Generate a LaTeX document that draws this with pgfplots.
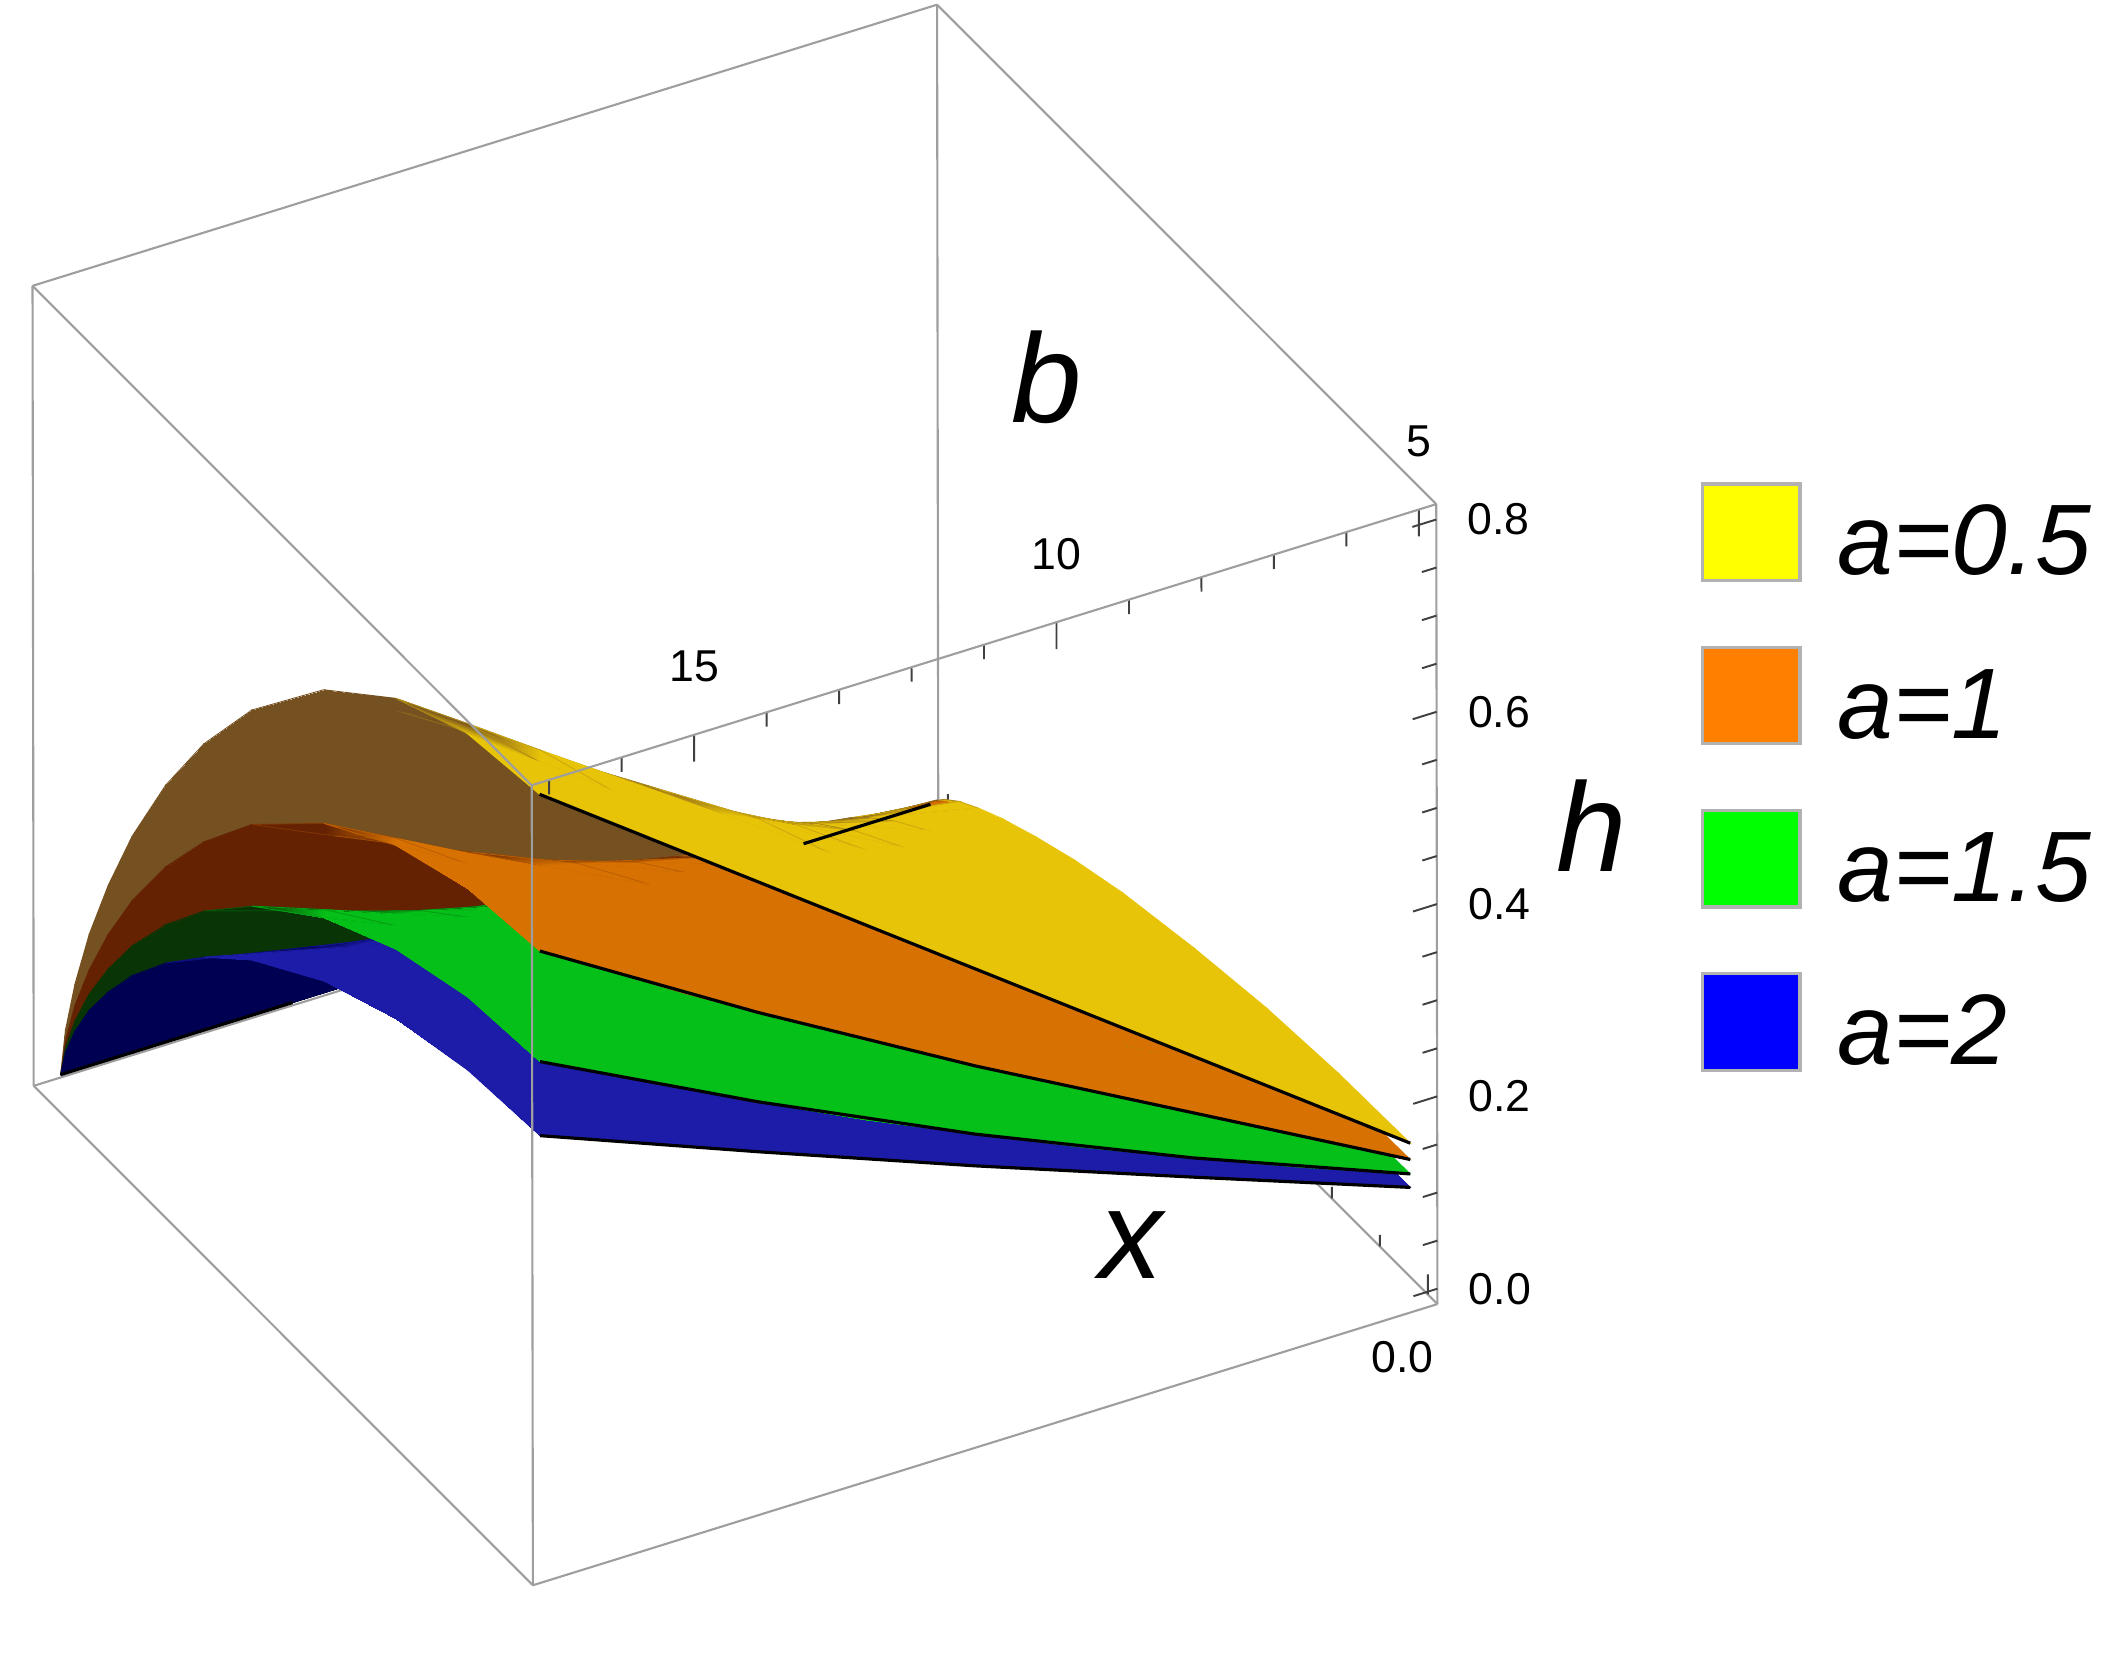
\documentclass[border=0pt]{standalone}
\usepackage{fontspec}
\setmainfont{Liberation Sans}
\usepackage{pgfplots}
\usepackage{pgfplotstable}
\pgfplotsset{compat=1.18}
\usetikzlibrary{calc}
\pgfplotsset{colormap={surfcols}{rgb255=(0,0,82) rgb255=(28,28,168) rgb255=(8,52,6) rgb255=(4,192,24) rgb255=(100,34,2) rgb255=(215,114,2) rgb255=(117,80,32) rgb255=(232,196,8)}}
\tikzset{tk/.style={draw=black!75, line width=0.55pt}}
\newcommand\tfont{\fontsize{12.7}{15}\selectfont}
\newcommand\afont{\fontsize{36}{40}\selectfont\itshape}
\newcommand\lfont{\fontsize{28.5}{32}\selectfont\itshape}
\definecolor{lgy}{RGB}{255,255,0}
\definecolor{lgo}{RGB}{255,128,0}
\definecolor{lgg}{RGB}{0,255,0}
\definecolor{lgb}{RGB}{0,0,255}
% h(x,b) for a=2 (blue); m: 1 = lit side, 0 = shaded side
\pgfplotstableread{
x b h m
0 5 0.101 1
0.15 5 0.099 1
0.3 5 0.095 1
0.45 5 0.086 1
0.6 5 0.074 1
0.7 5 0.063 1
0.78 5 0.052 1
0.85 5 0.041 1
0.9 5 0.032 1
0.94 5 0.022 1
0.97 5 0.014 1
0.99 5 0.007 1
1 5 0 0
0 6.5 0.142 1
0.15 6.5 0.139 1
0.3 6.5 0.132 1
0.45 6.5 0.121 1
0.6 6.5 0.104 1
0.7 6.5 0.088 1
0.78 6.5 0.073 1
0.85 6.5 0.058 1
0.9 6.5 0.044 1
0.94 6.5 0.031 1
0.97 6.5 0.020 1
0.99 6.5 0.009 0
1 6.5 0 0
0 8 0.182 1
0.15 8 0.179 1
0.3 8 0.170 1
0.45 8 0.155 1
0.6 8 0.133 1
0.7 8 0.114 1
0.78 8 0.094 1
0.85 8 0.074 1
0.9 8 0.057 1
0.94 8 0.040 1
0.97 8 0.025 1
0.99 8 0.012 0
1 8 0 0
0 9.5 0.223 1
0.15 9.5 0.219 1
0.3 9.5 0.209 1
0.45 9.5 0.190 1
0.6 9.5 0.163 1
0.7 9.5 0.139 1
0.78 9.5 0.116 1
0.85 9.5 0.091 1
0.9 9.5 0.070 1
0.94 9.5 0.049 1
0.97 9.5 0.031 0
0.99 9.5 0.014 0
1 9.5 0 0
0 11 0.264 1
0.15 11 0.260 1
0.3 11 0.247 1
0.45 11 0.225 1
0.6 11 0.193 1
0.7 11 0.165 1
0.78 11 0.137 1
0.85 11 0.108 1
0.9 11 0.083 1
0.94 11 0.059 0
0.97 11 0.036 0
0.99 11 0.017 0
1 11 0 0
0 12.5 0.306 1
0.15 12.5 0.301 1
0.3 12.5 0.286 1
0.45 12.5 0.261 1
0.6 12.5 0.224 1
0.7 12.5 0.191 1
0.78 12.5 0.159 1
0.85 12.5 0.125 1
0.9 12.5 0.096 0
0.94 12.5 0.068 0
0.97 12.5 0.042 0
0.99 12.5 0.020 0
1 12.5 0 0
0 14 0.349 1
0.15 14 0.343 1
0.3 14 0.327 1
0.45 14 0.298 1
0.6 14 0.255 1
0.7 14 0.218 1
0.78 14 0.181 1
0.85 14 0.142 0
0.9 14 0.109 0
0.94 14 0.077 0
0.97 14 0.048 0
0.99 14 0.022 0
1 14 0 0
0 15 0.378 1
0.15 15 0.372 1
0.3 15 0.354 1
0.45 15 0.323 1
0.6 15 0.277 1
0.7 15 0.236 1
0.78 15 0.196 0
0.85 15 0.154 0
0.9 15 0.118 0
0.94 15 0.084 0
0.97 15 0.052 0
0.99 15 0.024 0
1 15 0 0
0 16 0.407 1
0.15 16 0.401 1
0.3 16 0.381 1
0.45 16 0.347 1
0.6 16 0.298 1
0.7 16 0.254 1
0.78 16 0.211 0
0.85 16 0.166 0
0.9 16 0.127 0
0.94 16 0.090 0
0.97 16 0.056 0
0.99 16 0.026 0
1 16 0 0
0 17 0.436 1
0.15 17 0.429 1
0.3 17 0.408 1
0.45 17 0.372 1
0.6 17 0.319 1
0.7 17 0.272 1
0.78 17 0.226 0
0.85 17 0.178 0
0.9 17 0.136 0
0.94 17 0.097 0
0.97 17 0.060 0
0.99 17 0.028 0
1 17 0 0
}\tB
% a=1.5 (green)
\pgfplotstableread{
x b h m
0 5 0.115 3
0.15 5 0.113 3
0.3 5 0.108 3
0.45 5 0.098 3
0.6 5 0.084 3
0.7 5 0.072 3
0.78 5 0.060 3
0.85 5 0.047 3
0.9 5 0.036 3
0.94 5 0.026 3
0.97 5 0.016 3
0.99 5 0.007 3
1 5 0 2
0 6.5 0.157 3
0.15 6.5 0.155 3
0.3 6.5 0.147 3
0.45 6.5 0.134 3
0.6 6.5 0.115 3
0.7 6.5 0.098 3
0.78 6.5 0.081 3
0.85 6.5 0.064 3
0.9 6.5 0.049 3
0.94 6.5 0.035 3
0.97 6.5 0.022 3
0.99 6.5 0.010 2
1 6.5 0 2
0 8 0.202 3
0.15 8 0.198 3
0.3 8 0.189 3
0.45 8 0.172 3
0.6 8 0.147 3
0.7 8 0.126 3
0.78 8 0.105 3
0.85 8 0.082 3
0.9 8 0.063 3
0.94 8 0.045 3
0.97 8 0.028 2
0.99 8 0.013 2
1 8 0 2
0 9.5 0.248 3
0.15 9.5 0.244 3
0.3 9.5 0.232 3
0.45 9.5 0.212 3
0.6 9.5 0.182 3
0.7 9.5 0.155 3
0.78 9.5 0.129 3
0.85 9.5 0.101 3
0.9 9.5 0.078 3
0.94 9.5 0.055 2
0.97 9.5 0.034 2
0.99 9.5 0.016 2
1 9.5 0 2
0 11 0.297 3
0.15 11 0.292 3
0.3 11 0.278 3
0.45 11 0.253 3
0.6 11 0.217 3
0.7 11 0.185 3
0.78 11 0.154 3
0.85 11 0.121 3
0.9 11 0.093 2
0.94 11 0.066 2
0.97 11 0.041 2
0.99 11 0.019 2
1 11 0 2
0 12.5 0.347 3
0.15 12.5 0.342 3
0.3 12.5 0.325 3
0.45 12.5 0.296 3
0.6 12.5 0.254 3
0.7 12.5 0.217 3
0.78 12.5 0.180 3
0.85 12.5 0.142 2
0.9 12.5 0.109 2
0.94 12.5 0.077 2
0.97 12.5 0.048 2
0.99 12.5 0.022 2
1 12.5 0 2
0 14 0.401 3
0.15 14 0.395 3
0.3 14 0.375 3
0.45 14 0.342 3
0.6 14 0.293 3
0.7 14 0.250 3
0.78 14 0.208 2
0.85 14 0.163 2
0.9 14 0.125 2
0.94 14 0.089 2
0.97 14 0.055 2
0.99 14 0.026 2
1 14 0 2
0 15 0.438 3
0.15 15 0.431 3
0.3 15 0.410 3
0.45 15 0.374 3
0.6 15 0.320 3
0.7 15 0.273 2
0.78 15 0.227 2
0.85 15 0.179 2
0.9 15 0.137 2
0.94 15 0.097 2
0.97 15 0.060 2
0.99 15 0.028 2
1 15 0 2
0 16 0.476 3
0.15 16 0.468 3
0.3 16 0.445 3
0.45 16 0.406 3
0.6 16 0.348 3
0.7 16 0.297 2
0.78 16 0.247 2
0.85 16 0.194 2
0.9 16 0.149 2
0.94 16 0.106 2
0.97 16 0.066 2
0.99 16 0.031 2
1 16 0 2
0 17 0.513 3
0.15 17 0.505 3
0.3 17 0.480 3
0.45 17 0.438 3
0.6 17 0.375 2
0.7 17 0.320 2
0.78 17 0.266 2
0.85 17 0.209 2
0.9 17 0.160 2
0.94 17 0.114 2
0.97 17 0.071 2
0.99 17 0.033 2
1 17 0 2
}\tG
% a=1 (orange)
\pgfplotstableread{
x b h m
0 5 0.130 5
0.15 5 0.128 5
0.3 5 0.122 5
0.45 5 0.111 5
0.6 5 0.095 5
0.7 5 0.081 5
0.78 5 0.067 5
0.85 5 0.053 5
0.9 5 0.041 5
0.94 5 0.029 5
0.97 5 0.018 5
0.99 5 0.008 5
1 5 0 4
0 6.5 0.189 5
0.15 6.5 0.186 5
0.3 6.5 0.177 5
0.45 6.5 0.161 5
0.6 6.5 0.138 5
0.7 6.5 0.118 5
0.78 6.5 0.098 5
0.85 6.5 0.077 5
0.9 6.5 0.059 5
0.94 6.5 0.042 5
0.97 6.5 0.026 5
0.99 6.5 0.012 4
1 6.5 0 4
0 8 0.249 5
0.15 8 0.245 5
0.3 8 0.233 5
0.45 8 0.212 5
0.6 8 0.182 5
0.7 8 0.155 5
0.78 8 0.129 5
0.85 8 0.101 5
0.9 8 0.078 5
0.94 8 0.055 4
0.97 8 0.034 4
0.99 8 0.016 4
1 8 0 4
0 9.5 0.308 5
0.15 9.5 0.303 5
0.3 9.5 0.288 5
0.45 9.5 0.263 5
0.6 9.5 0.225 5
0.7 9.5 0.192 5
0.78 9.5 0.160 5
0.85 9.5 0.126 4
0.9 9.5 0.096 4
0.94 9.5 0.068 4
0.97 9.5 0.043 4
0.99 9.5 0.020 4
1 9.5 0 4
0 11 0.368 5
0.15 11 0.362 5
0.3 11 0.344 5
0.45 11 0.314 5
0.6 11 0.269 5
0.7 11 0.230 5
0.78 11 0.191 4
0.85 11 0.150 4
0.9 11 0.115 4
0.94 11 0.082 4
0.97 11 0.051 4
0.99 11 0.024 4
1 11 0 4
0 12.5 0.430 5
0.15 12.5 0.423 5
0.3 12.5 0.402 5
0.45 12.5 0.367 5
0.6 12.5 0.314 5
0.7 12.5 0.268 4
0.78 12.5 0.223 4
0.85 12.5 0.175 4
0.9 12.5 0.134 4
0.94 12.5 0.095 4
0.97 12.5 0.059 4
0.99 12.5 0.028 4
1 12.5 0 4
0 14 0.494 5
0.15 14 0.486 5
0.3 14 0.462 5
0.45 14 0.421 5
0.6 14 0.361 4
0.7 14 0.308 4
0.78 14 0.256 4
0.85 14 0.201 4
0.9 14 0.154 4
0.94 14 0.110 4
0.97 14 0.068 4
0.99 14 0.032 4
1 14 0 4
0 15 0.537 5
0.15 15 0.529 5
0.3 15 0.503 5
0.45 15 0.458 5
0.6 15 0.393 4
0.7 15 0.335 4
0.78 15 0.279 4
0.85 15 0.219 4
0.9 15 0.168 4
0.94 15 0.119 4
0.97 15 0.074 4
0.99 15 0.035 4
1 15 0 4
0 16 0.583 5
0.15 16 0.573 5
0.3 16 0.545 5
0.45 16 0.497 5
0.6 16 0.426 4
0.7 16 0.364 4
0.78 16 0.302 4
0.85 16 0.237 4
0.9 16 0.182 4
0.94 16 0.129 4
0.97 16 0.080 4
0.99 16 0.038 4
1 16 0 4
0 17 0.628 5
0.15 17 0.618 5
0.3 17 0.588 5
0.45 17 0.536 4
0.6 17 0.460 4
0.7 17 0.392 4
0.78 17 0.326 4
0.85 17 0.256 4
0.9 17 0.196 4
0.94 17 0.139 4
0.97 17 0.087 4
0.99 17 0.040 4
1 17 0 4
}\tO
% a=0.5 (yellow)
\pgfplotstableread{
x b h m
0 5 0.147 7
0.15 5 0.145 7
0.3 5 0.138 7
0.45 5 0.125 7
0.6 5 0.108 7
0.7 5 0.092 7
0.78 5 0.076 7
0.85 5 0.060 7
0.9 5 0.046 7
0.94 5 0.033 7
0.97 5 0.020 7
0.99 5 0.009 6
1 5 0 6
0 6.5 0.228 7
0.15 6.5 0.224 7
0.3 6.5 0.213 7
0.45 6.5 0.194 7
0.6 6.5 0.167 7
0.7 6.5 0.142 7
0.78 6.5 0.118 7
0.85 6.5 0.093 7
0.9 6.5 0.071 7
0.94 6.5 0.051 6
0.97 6.5 0.031 6
0.99 6.5 0.015 6
1 6.5 0 6
0 8 0.308 7
0.15 8 0.303 7
0.3 8 0.288 7
0.45 8 0.263 7
0.6 8 0.225 7
0.7 8 0.192 7
0.78 8 0.160 7
0.85 8 0.126 6
0.9 8 0.096 6
0.94 8 0.068 6
0.97 8 0.043 6
0.99 8 0.020 6
1 8 0 6
0 9.5 0.389 7
0.15 9.5 0.383 7
0.3 9.5 0.364 7
0.45 9.5 0.332 7
0.6 9.5 0.284 7
0.7 9.5 0.243 6
0.78 9.5 0.202 6
0.85 9.5 0.158 6
0.9 9.5 0.122 6
0.94 9.5 0.086 6
0.97 9.5 0.054 6
0.99 9.5 0.025 6
1 9.5 0 6
0 11 0.469 7
0.15 11 0.462 7
0.3 11 0.439 7
0.45 11 0.400 7
0.6 11 0.343 6
0.7 11 0.293 6
0.78 11 0.243 6
0.85 11 0.191 6
0.9 11 0.147 6
0.94 11 0.104 6
0.97 11 0.065 6
0.99 11 0.030 6
1 11 0 6
0 12.5 0.550 7
0.15 12.5 0.541 7
0.3 12.5 0.515 7
0.45 12.5 0.469 6
0.6 12.5 0.402 6
0.7 12.5 0.343 6
0.78 12.5 0.285 6
0.85 12.5 0.224 6
0.9 12.5 0.172 6
0.94 12.5 0.122 6
0.97 12.5 0.076 6
0.99 12.5 0.035 6
1 12.5 0 6
0 14 0.630 7
0.15 14 0.620 7
0.3 14 0.590 7
0.45 14 0.538 6
0.6 14 0.461 6
0.7 14 0.393 6
0.78 14 0.327 6
0.85 14 0.257 6
0.9 14 0.197 6
0.94 14 0.140 6
0.97 14 0.087 6
0.99 14 0.041 6
1 14 0 6
0 15 0.684 7
0.15 15 0.673 7
0.3 15 0.640 7
0.45 15 0.584 6
0.6 15 0.500 6
0.7 15 0.427 6
0.78 15 0.355 6
0.85 15 0.279 6
0.9 15 0.214 6
0.94 15 0.152 6
0.97 15 0.094 6
0.99 15 0.044 6
1 15 0 6
0 16 0.738 7
0.15 16 0.726 7
0.3 16 0.691 6
0.45 16 0.630 6
0.6 16 0.540 6
0.7 16 0.460 6
0.78 16 0.383 6
0.85 16 0.301 6
0.9 16 0.231 6
0.94 16 0.164 6
0.97 16 0.102 6
0.99 16 0.048 6
1 16 0 6
0 17 0.791 7
0.15 17 0.779 7
0.3 17 0.741 6
0.45 17 0.675 6
0.6 17 0.579 6
0.7 17 0.494 6
0.78 17 0.411 6
0.85 17 0.323 6
0.9 17 0.247 6
0.94 17 0.176 6
0.97 17 0.109 6
0.99 17 0.051 6
1 17 0 6
}\tY
\pgfplotsset{srf/.style={surf, shader=faceted interp, faceted color=mapped color, line width=0.25pt, z buffer=sort, unbounded coords=jump, mesh/cols=13, point meta=\thisrow{m}}}
\newcommand\SP[3]{\addplot3[srf, restrict y to domain=#2, restrict x to domain=#3] table {#1};}
% one strip in b: shaded parts (upper surface first), then lit parts (lower surface first)
\newcommand\strip[9]{%
  \SP{\tY}{#1}{#3:1.01}\SP{\tO}{#1}{#5:1.01}\SP{\tG}{#1}{#7:1.01}\SP{\tB}{#1}{#9:1.01}%
  \SP{\tB}{#1}{-0.01:#8}\SP{\tG}{#1}{-0.01:#6}\SP{\tO}{#1}{-0.01:#4}\SP{\tY}{#1}{-0.01:#2}}
\begin{document}
\begin{tikzpicture}
\begin{axis}[
  x={(-4.800cm,4.802cm)}, y={(-0.7248cm,-0.2253cm)}, z={(-0.0138cm,9.615cm)},
  xmin=-0.02, xmax=1.02, ymin=4.76, ymax=17.24, zmin=-0.016, zmax=0.816,
  xtick=\empty, ytick=\empty, ztick=\empty,
  3d box=complete,
  axis line style={draw=black!38, line width=0.6pt},
  every 3d box foreground style/.style={draw=black!38, line width=0.6pt},
  clip=false,
  colormap name=surfcols, point meta min=0, point meta max=7,
]
\coordinate (O) at (axis cs:0.5,11,0.4);
% x-axis ticks (behind the surfaces)
\pgfplotsinvokeforeach{0,0.5,1}{\draw[tk] (axis cs:#1,4.76,-0.016) -- (axis cs:#1,4.76,0.005);}
\pgfplotsinvokeforeach{0.1,0.2,0.3,0.4,0.6,0.7,0.8,0.9}{\draw[tk] (axis cs:#1,4.76,-0.016) -- (axis cs:#1,4.76,-0.004);}

\strip{4.99:6.51}{0.9401}{0.9399}{0.9901}{0.9899}{0.9901}{0.9899}{0.9901}{0.9899}
\strip{6.49:8.01}{0.8501}{0.8499}{0.9401}{0.9399}{0.9701}{0.9699}{0.9901}{0.9899}
\strip{7.99:9.51}{0.7001}{0.6999}{0.8501}{0.8499}{0.9401}{0.9399}{0.9701}{0.9699}
\strip{9.49:11.01}{0.6001}{0.5999}{0.7801}{0.7799}{0.9001}{0.8999}{0.9401}{0.9399}
\strip{10.99:12.51}{0.4501}{0.4499}{0.7001}{0.6999}{0.8501}{0.8499}{0.9001}{0.8999}
\strip{12.49:14.01}{0.4501}{0.4499}{0.6001}{0.5999}{0.7801}{0.7799}{0.8501}{0.8499}
\strip{13.99:15.01}{0.4501}{0.4499}{0.6001}{0.5999}{0.7001}{0.6999}{0.7801}{0.7799}
\strip{14.99:16.01}{0.3001}{0.2999}{0.6001}{0.5999}{0.7001}{0.6999}{0.7801}{0.7799}
\strip{15.99:17.01}{0.3001}{0.2999}{0.4501}{0.4499}{0.6001}{0.5999}{0.7801}{0.7799}

% black boundary lines of the surfaces
\addplot3[black, line width=0.9pt, no markers] coordinates {(0,5,0.101) (0,8,0.182) (0,11,0.264) (0,14,0.349) (0,17,0.436)};
\addplot3[black, line width=0.9pt, no markers] coordinates {(0,5,0.115) (0,8,0.202) (0,11,0.297) (0,14,0.401) (0,17,0.513)};
\addplot3[black, line width=0.9pt, no markers] coordinates {(0,5,0.130) (0,8,0.249) (0,11,0.368) (0,14,0.494) (0,17,0.628)};
\addplot3[black, line width=0.9pt, no markers] coordinates {(0,5,0.147) (0,8,0.308) (0,11,0.469) (0,14,0.630) (0,17,0.791)};
\addplot3[black, line width=0.9pt, no markers] coordinates {(1,13.8,0) (1,17,0)};
\addplot3[black, line width=0.9pt, no markers] coordinates {(1,5,0) (1,6.75,0)};

% b-axis ticks and labels
\pgfplotsinvokeforeach{5,10,15}{\draw[tk] (axis cs:-0.02,#1,0.816) -- (axis cs:-0.02,#1,0.788);
  \node[font=\tfont, anchor=south, yshift=0.40cm] at (axis cs:-0.02,#1,0.816) {#1};}
\pgfplotsinvokeforeach{6,7,8,9,11,12,13,14,16,17}{\draw[tk] (axis cs:-0.02,#1,0.816) -- (axis cs:-0.02,#1,0.801);}
% h-axis ticks and labels
\pgfplotsinvokeforeach{0.0,0.2,0.4,0.6,0.8}{\draw[tk] (axis cs:-0.02,4.76,#1) -- (axis cs:-0.02,5.09,#1);
  \node[font=\tfont, anchor=west, xshift=0.19cm] at (axis cs:-0.02,4.76,#1) {#1};}
\pgfplotsinvokeforeach{0.05,0.1,0.15,0.25,0.3,0.35,0.45,0.5,0.55,0.65,0.7,0.75}{\draw[tk] (axis cs:-0.02,4.76,#1) -- (axis cs:-0.02,4.96,#1);}
% x-axis label at 0
\node[font=\tfont, anchor=north east, xshift=0.18cm, yshift=-0.34cm] at (axis cs:0,4.76,-0.016) {0.0};
% axis labels
\node[font=\afont] at (axis cs:-0.02,11,0.816) [xshift=0.63cm, yshift=2.67cm] {b};
\node[font=\afont] at (axis cs:-0.02,4.76,0.44) [xshift=1.55cm, yshift=0.40cm] {h};
\node[font=\afont] at (axis cs:0.35,4.76,-0.016) [xshift=-1.29cm, yshift=-1.19cm] {x};
\end{axis}
\coordinate (TL) at ($(O)+(-7.35,7.95)$);
\foreach \c/\t/\i in {lgy/0.5/0, lgo/1/1, lgg/1.5/2, lgb/2/3}{
  \filldraw[fill=\c, draw=black!30, line width=0.9pt] ($(TL)+(17.025,{-4.84-1.633*\i})$) rectangle ($(TL)+(18.00,{-5.805-1.633*\i})$);
  \node[anchor=base west, inner sep=0pt, font=\lfont] at ($(TL)+(18.37,{-5.75-1.633*\i})$) {a=\t};
}
\pgfresetboundingbox
\path[use as bounding box] (TL) rectangle ($(TL)+(21.12,-16.78)$);
\end{tikzpicture}
\end{document}
